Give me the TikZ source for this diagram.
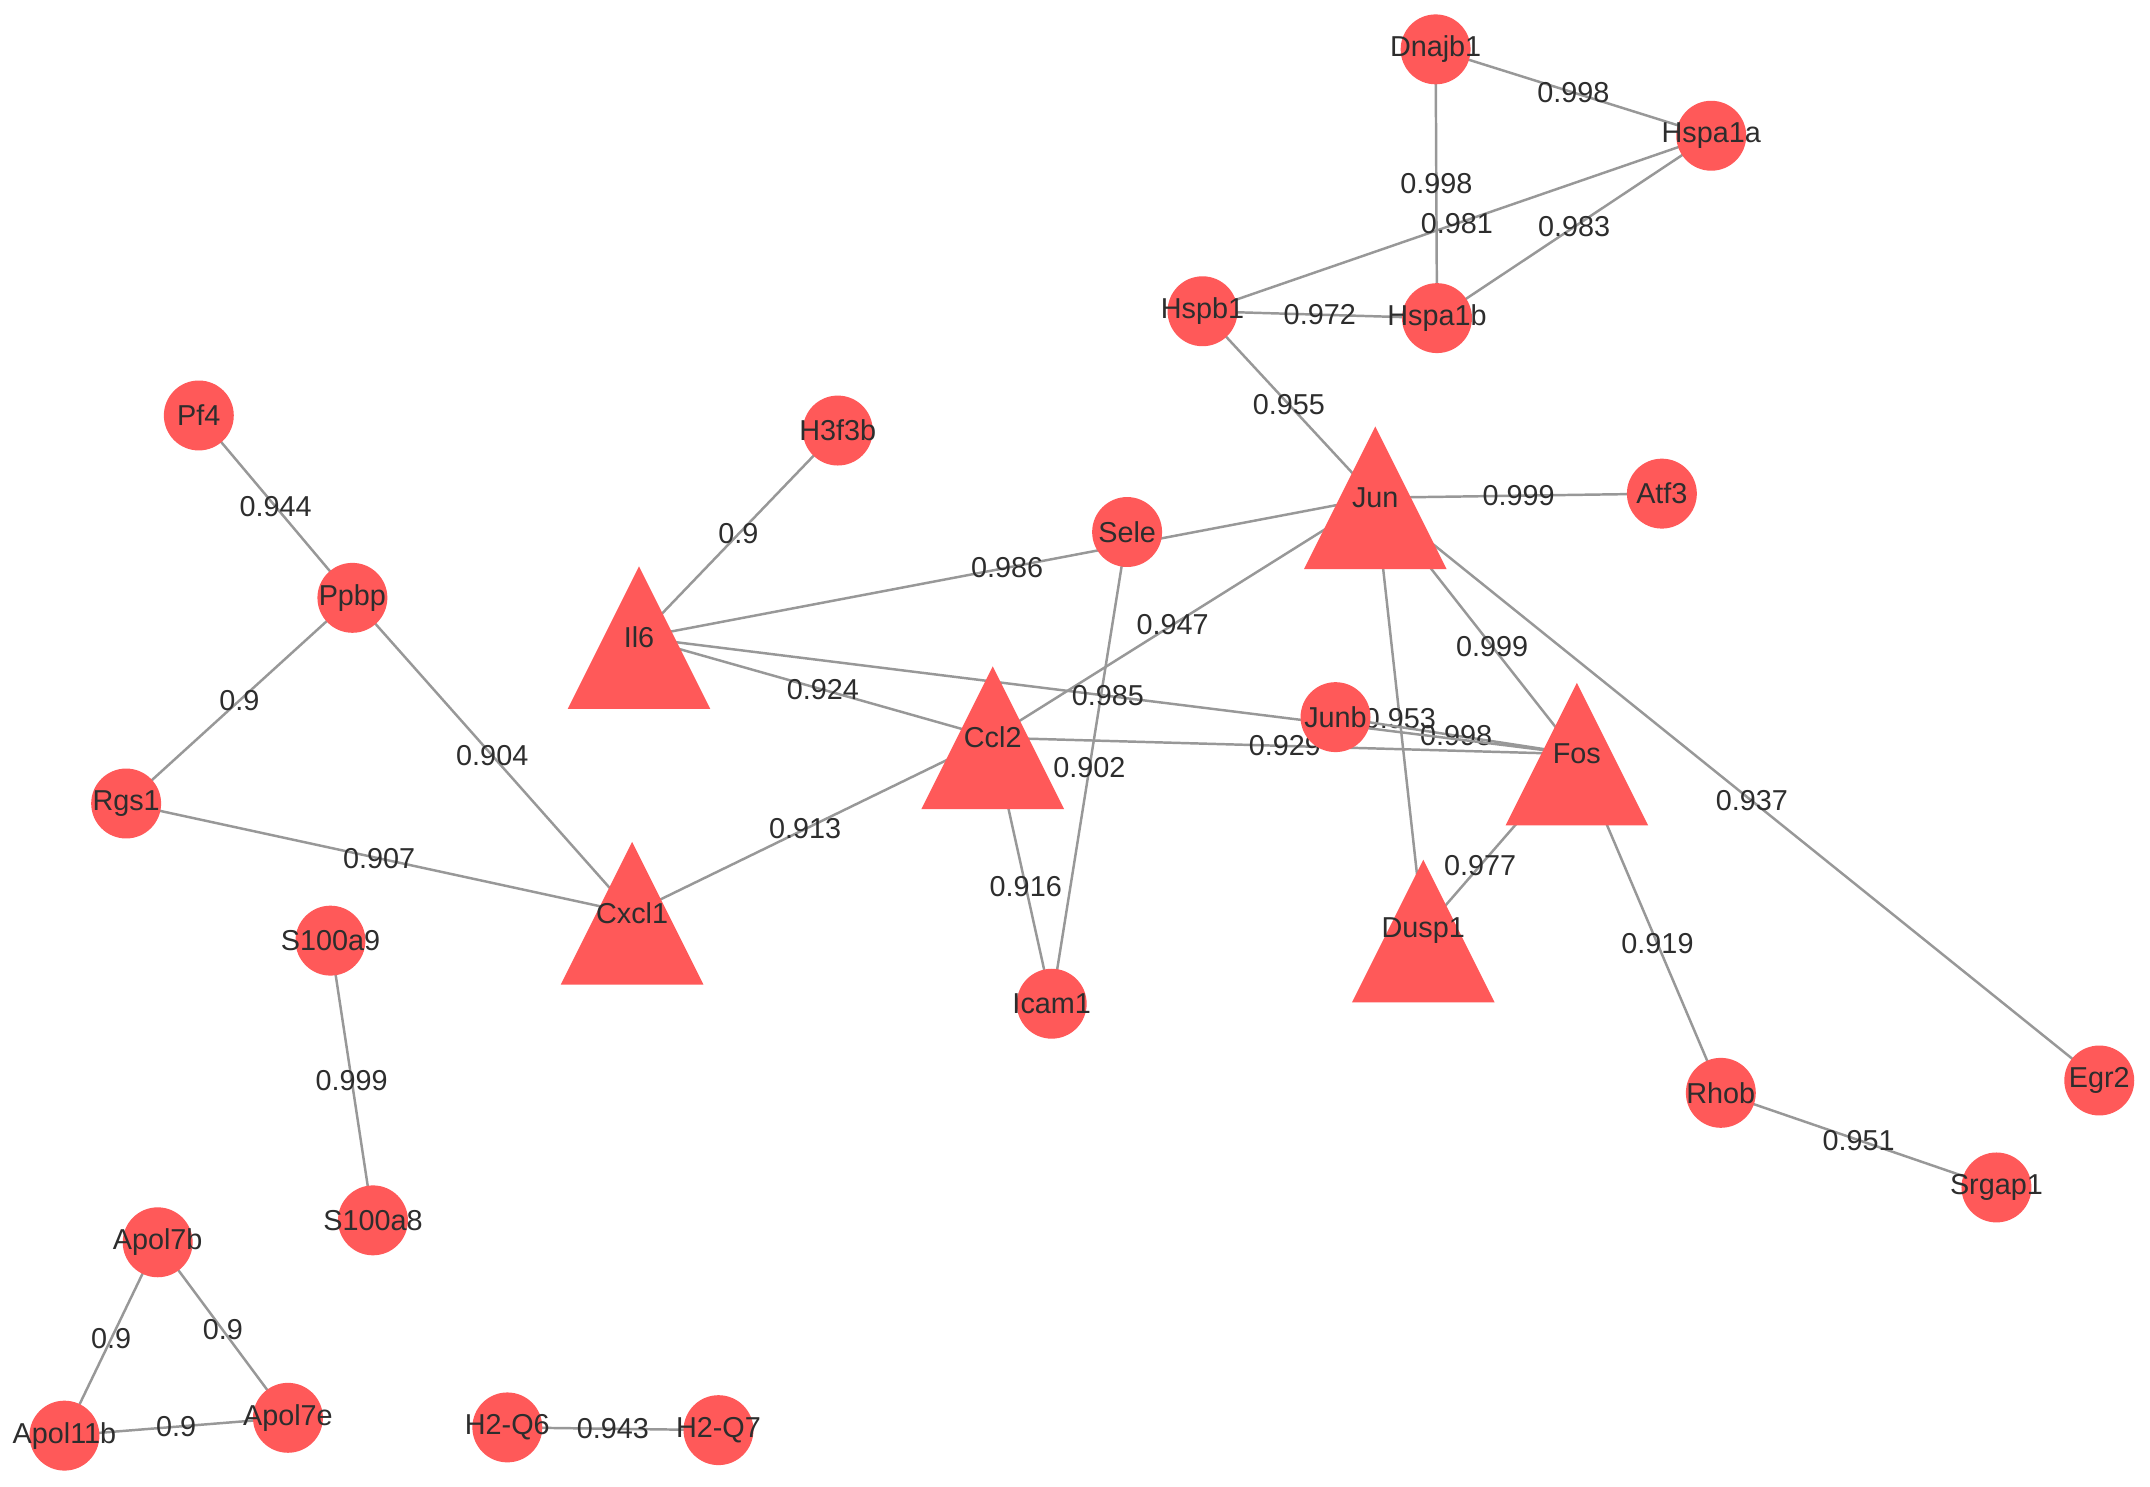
\documentclass[tikz,border=0pt]{standalone}
\usepackage{fontspec}
\setmainfont{Liberation Sans}
\definecolor{nodered}{RGB}{255,89,89}
\definecolor{edgegray}{RGB}{152,152,152}
\definecolor{txt}{RGB}{45,45,45}
\pgfdeclarelayer{bg}
\pgfdeclarelayer{tri}
\pgfsetlayers{bg,tri,main}
\newcommand{\lbl}[1]{\makebox[0pt]{#1}}
\begin{document}
\begin{tikzpicture}[x=1pt,y=-1pt,
  gene/.style={circle, fill=nodered, minimum size=51pt, inner sep=0pt, text=txt, font=\fontsize{21}{24}\selectfont},
  hub/.style={inner sep=0pt, text=txt, font=\fontsize{21}{24}\selectfont},
  link/.style={draw=edgegray, line width=1.8pt},
  wt/.style={inner sep=0pt, text=txt, font=\fontsize{21}{24}\selectfont}]
\useasboundingbox (0,0) rectangle (1568,1084);

% circle nodes
\node[gene] (dnajb1) at (1047,36) {\lbl{Dnajb1}};
\node[gene] (hspa1a) at (1248,99) {\lbl{Hspa1a}};
\node[gene] (hspb1) at (877,227) {\lbl{Hspb1}};
\node[gene] (hspa1b) at (1048,232) {\lbl{Hspa1b}};
\node[gene] (pf4) at (145,303) {\lbl{Pf4}};
\node[gene] (h3f3b) at (611,314) {\lbl{H3f3b}};
\node[gene] (atf3) at (1212,360) {\lbl{Atf3}};
\node[gene] (sele) at (822,388) {\lbl{Sele}};
\node[gene] (ppbp) at (257,436) {\lbl{Ppbp}};
\node[gene] (junb) at (974,523) {\lbl{Junb}};
\node[gene] (rgs1) at (92,586) {\lbl{Rgs1}};
\node[gene] (s100a9) at (241,686) {\lbl{S100a9}};
\node[gene] (icam1) at (767,732) {\lbl{Icam1}};
\node[gene] (egr2) at (1531,788) {\lbl{Egr2}};
\node[gene] (rhob) at (1255,797) {\lbl{Rhob}};
\node[gene] (s100a8) at (272,890) {\lbl{S100a8}};
\node[gene] (srgap1) at (1456,866) {\lbl{Srgap1}};
\node[gene] (apol7b) at (115,906) {\lbl{Apol7b}};
\node[gene] (apol11b) at (47,1047) {\lbl{Apol11b}};
\node[gene] (apol7e) at (210,1034) {\lbl{Apol7e}};
\node[gene] (h2q6) at (370,1041) {\lbl{H2-Q6}};
\node[gene] (h2q7) at (524,1043) {\lbl{H2-Q7}};

% triangle (hub) nodes
\node[hub] (jun) at (1003,363) {Jun};
\node[hub] (il6) at (466,465) {Il6};
\node[hub] (ccl2) at (724,538) {Ccl2};
\node[hub] (fos) at (1150,550) {Fos};
\node[hub] (cxcl1) at (461,666) {Cxcl1};
\node[hub] (dusp1) at (1038,679) {Dusp1};

\begin{pgfonlayer}{tri}
\foreach \n in {jun,il6,ccl2,fos,cxcl1,dusp1}{
  \fill[nodered] ([shift={(-52,52)}]\n.center) -- ([shift={(52,52)}]\n.center) -- ([shift={(0,-52)}]\n.center) -- cycle;
}
\end{pgfonlayer}

\begin{pgfonlayer}{bg}
\fill[white] (0,0) rectangle (1568,1084);
\draw[link] (dnajb1.center) -- node[wt]{0.998} (hspa1a.center);
\draw[link] (dnajb1.center) -- node[wt]{0.998} (hspa1b.center);
\draw[link] (hspa1a.center) -- node[wt]{0.981} (hspb1.center);
\draw[link] (hspa1a.center) -- node[wt]{0.983} (hspa1b.center);
\draw[link] (hspb1.center) -- node[wt]{0.972} (hspa1b.center);
\draw[link] (hspb1.center) -- node[wt]{0.955} (jun.center);
\draw[link] (jun.center) -- node[wt]{0.999} (atf3.center);
\draw[link] (pf4.center) -- node[wt]{0.944} (ppbp.center);
\draw[link] (h3f3b.center) -- node[wt]{0.9} (il6.center);
\draw[link] (il6.center) -- node[wt]{0.986} (jun.center);
\draw[link] (sele.center) -- node[wt]{0.902} (icam1.center);
\draw[link] (ccl2.center) -- node[wt,pos=0.47]{0.947} (jun.center);
\draw[link] (jun.center) -- node[wt,pos=0.58]{0.999} (fos.center);
\draw[link] (jun.center) -- node[wt,pos=0.52]{0.937} (egr2.center);
\draw[link] (jun.center) -- node[wt,pos=0.51]{0.953} (dusp1.center);
\draw[link] (junb.center) -- node[wt]{0.998} (fos.center);
\draw[link] (ccl2.center) -- node[wt]{0.929} (fos.center);
\draw[link] (il6.center) -- node[wt]{0.985} (fos.center);
\draw[link] (il6.center) -- node[wt,pos=0.52]{0.924} (ccl2.center);
\draw[link] (ccl2.center) -- node[wt,pos=0.52]{0.913} (cxcl1.center);
\draw[link] (ccl2.center) -- node[wt,pos=0.56]{0.916} (icam1.center);
\draw[link] (fos.center) -- node[wt,pos=0.63]{0.977} (dusp1.center);
\draw[link] (fos.center) -- node[wt,pos=0.56]{0.919} (rhob.center);
\draw[link] (rhob.center) -- node[wt]{0.951} (srgap1.center);
\draw[link] (ppbp.center) -- node[wt]{0.9} (rgs1.center);
\draw[link] (ppbp.center) -- node[wt]{0.904} (cxcl1.center);
\draw[link] (rgs1.center) -- node[wt]{0.907} (cxcl1.center);
\draw[link] (s100a9.center) -- node[wt]{0.999} (s100a8.center);
\draw[link] (apol7b.center) -- node[wt]{0.9} (apol11b.center);
\draw[link] (apol7b.center) -- node[wt]{0.9} (apol7e.center);
\draw[link] (apol11b.center) -- node[wt]{0.9} (apol7e.center);
\draw[link] (h2q6.center) -- node[wt]{0.943} (h2q7.center);
\end{pgfonlayer}
\end{tikzpicture}
\end{document}
